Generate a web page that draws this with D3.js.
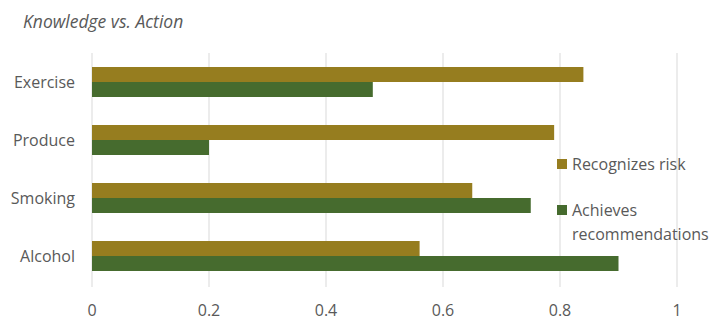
<!DOCTYPE html>
<html>
<head>
<meta charset="utf-8">
<script src="https://cdn.jsdelivr.net/npm/d3@7"></script>
<style>
  body { margin: 0; background: #fff; }
  text { font-family: "Open Sans", "Noto Sans", sans-serif; fill: #595959; }
</style>
</head>
<body>
<svg id="chart"></svg>
<script>
const categories = ['Exercise', 'Produce', 'Smoking', 'Alcohol'];
const recognizesRisk = [0.84, 0.79, 0.65, 0.56];
const achievesRecs = [0.48, 0.20, 0.75, 0.90];
const xTicks = [0, 0.2, 0.4, 0.6, 0.8, 1];
const seriesNames = ['Recognizes risk', 'Achieves recommendations'];
const seriesColors = ['#967D1F', '#466B2E'];

const width = 720, height = 324;
const margin = { top: 53, right: 43, bottom: 39, left: 92 };

const svg = d3.select('#chart')
    .attr('width', width)
    .attr('height', height);

// title
svg.append('text')
    .attr('x', 23)
    .attr('y', 28)
    .attr('font-size', 17.5)
    .attr('font-style', 'italic')
    .text('Knowledge vs. Action');

const xScale = d3.scaleLinear()
    .domain([0, 1])
    .range([margin.left, width - margin.right]);

const yScale = d3.scaleBand()
    .domain(categories)
    .range([margin.top, height - margin.bottom]);

const seriesScale = d3.scaleBand()
    .domain([0, 1])
    .range([yScale.bandwidth() / 2 - 15, yScale.bandwidth() / 2 + 15]);

// gridlines
svg.append('g')
    .selectAll('line')
    .data(xTicks)
    .join('line')
    .attr('x1', d => xScale(d))
    .attr('x2', d => xScale(d))
    .attr('y1', margin.top)
    .attr('y2', height - margin.bottom + 2)
    .attr('stroke', '#d9d9d9')
    .attr('stroke-width', 1);

// x tick labels
svg.append('g')
    .selectAll('text')
    .data(xTicks)
    .join('text')
    .attr('x', d => xScale(d))
    .attr('y', 316)
    .attr('text-anchor', 'middle')
    .attr('font-size', 16)
    .text(d => d);

// category labels
svg.append('g')
    .selectAll('text')
    .data(categories)
    .join('text')
    .attr('x', 75)
    .attr('y', d => yScale(d) + yScale.bandwidth() / 2)
    .attr('dy', '0.35em')
    .attr('text-anchor', 'end')
    .attr('font-size', 16)
    .text(d => d);

// bars
const rows = categories.map((c, i) => ({ cat: c, vals: [recognizesRisk[i], achievesRecs[i]] }));
const groups = svg.append('g')
    .selectAll('g')
    .data(rows)
    .join('g')
    .attr('transform', d => `translate(0,${yScale(d.cat)})`);

groups.selectAll('rect')
    .data(d => d.vals.map((v, s) => ({ v, s })))
    .join('rect')
    .attr('x', xScale(0))
    .attr('y', d => seriesScale(d.s))
    .attr('width', d => xScale(d.v) - xScale(0))
    .attr('height', seriesScale.bandwidth())
    .attr('fill', d => seriesColors[d.s]);

// legend
const legend = svg.append('g');
legend.append('rect')
    .attr('x', 557).attr('y', 159)
    .attr('width', 10).attr('height', 10)
    .attr('fill', seriesColors[0]);
legend.append('text')
    .attr('x', 572).attr('y', 170)
    .attr('font-size', 16)
    .text(seriesNames[0]);
legend.append('rect')
    .attr('x', 557).attr('y', 205)
    .attr('width', 10).attr('height', 10)
    .attr('fill', seriesColors[1]);
legend.append('text')
    .attr('x', 572).attr('y', 216)
    .attr('font-size', 16)
    .text('Achieves');
legend.append('text')
    .attr('x', 572).attr('y', 240)
    .attr('font-size', 16)
    .text('recommendations');
</script>
</body>
</html>
